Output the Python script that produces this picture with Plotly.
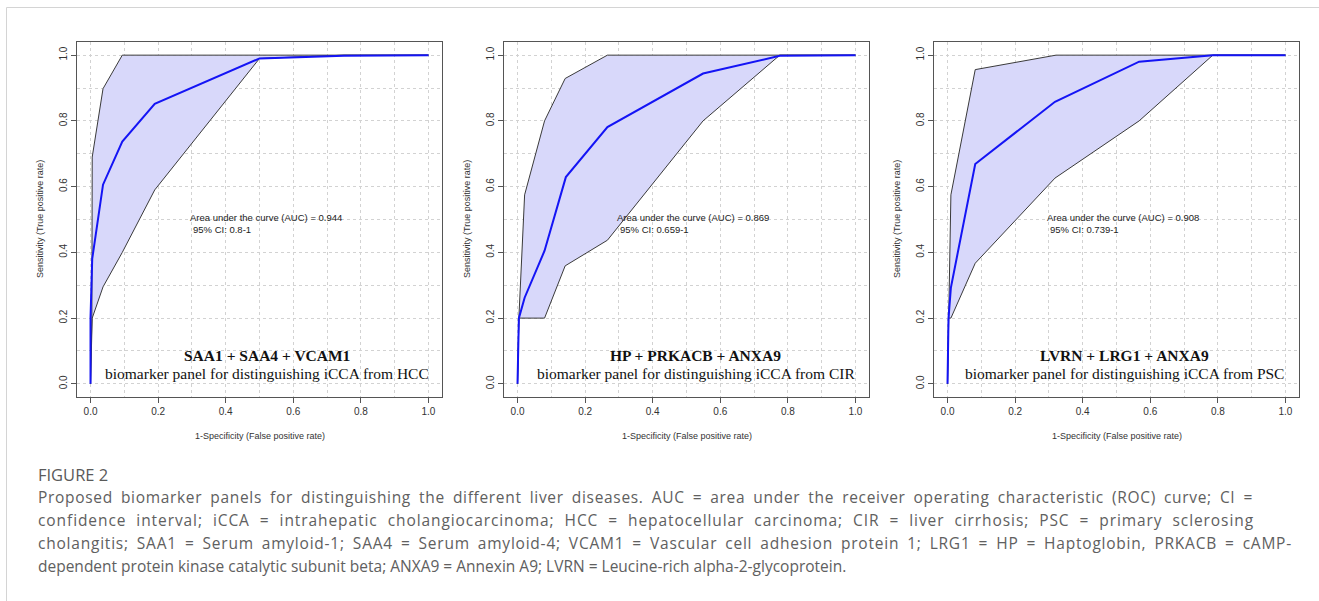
import json
import plotly.graph_objects as go

# ---------------- data ----------------
# Panel 1: SAA1 + SAA4 + VCAM1 (iCCA vs HCC)
p1_fpr = [0.0, 0.0, 0.005, 0.037, 0.094, 0.19, 0.50, 0.75, 1.0]
p1_tpr = [0.0, 0.2, 0.38, 0.606, 0.737, 0.852, 0.99, 0.998, 1.0]
p1_up_x = [0.0, 0.004, 0.005, 0.037, 0.094, 1.0]
p1_up_y = [0.0, 0.2, 0.69, 0.898, 1.0, 1.0]
p1_lo_x = [0.0, 0.005, 0.037, 0.094, 0.19, 0.50, 0.75, 1.0]
p1_lo_y = [0.0, 0.2, 0.295, 0.40, 0.59, 0.99, 1.0, 1.0]

# Panel 2: HP + PRKACB + ANXA9 (iCCA vs CIR)
p2_fpr = [0.0, 0.004, 0.021, 0.08, 0.143, 0.266, 0.549, 0.776, 1.0]
p2_tpr = [0.0, 0.2, 0.262, 0.405, 0.629, 0.781, 0.944, 0.998, 1.0]
p2_up_x = [0.0, 0.004, 0.021, 0.08, 0.141, 0.266, 1.0]
p2_up_y = [0.0, 0.2, 0.575, 0.80, 0.929, 1.0, 1.0]
p2_lo_x = [0.0, 0.004, 0.08, 0.141, 0.266, 0.549, 0.776, 1.0]
p2_lo_y = [0.0, 0.2, 0.2, 0.359, 0.437, 0.80, 1.0, 1.0]

# Panel 3: LVRN + LRG1 + ANXA9 (iCCA vs PSC)
p3_fpr = [0.0, 0.003, 0.01, 0.082, 0.318, 0.567, 0.785, 1.0]
p3_tpr = [0.0, 0.2, 0.293, 0.669, 0.858, 0.98, 1.0, 1.0]
p3_up_x = [0.0, 0.003, 0.01, 0.082, 0.321, 1.0]
p3_up_y = [0.0, 0.2, 0.575, 0.956, 1.0, 1.0]
p3_lo_x = [0.0, 0.003, 0.01, 0.082, 0.318, 0.567, 0.785, 1.0]
p3_lo_y = [0.0, 0.2, 0.2, 0.367, 0.626, 0.80, 1.0, 1.0]

panel_titles = ["SAA1 + SAA4 + VCAM1", "HP + PRKACB + ANXA9", "LVRN + LRG1 + ANXA9"]
panel_subtitles = ["biomarker panel for distinguishing iCCA from HCC",
                   "biomarker panel for distinguishing iCCA from CIR",
                   "biomarker panel for distinguishing iCCA from PSC"]
auc_texts = ["Area under the curve (AUC) = 0.944",
             "Area under the curve (AUC) = 0.869",
             "Area under the curve (AUC) = 0.908"]
ci_texts = ["95% CI: 0.8-1", "95% CI: 0.659-1", "95% CI: 0.739-1"]

tick_vals = [0.0, 0.2, 0.4, 0.6, 0.8, 1.0]
tick_text = ["0.0", "0.2", "0.4", "0.6", "0.8", "1.0"]

x_title = "1-Specificity (False positive rate)"
y_title = "Sensitivity (True positive rate)"

fig_label = "FIGURE 2"
caption_lines = [
    "Proposed biomarker panels for distinguishing the different liver diseases. AUC = area under the receiver operating characteristic (ROC) curve; CI =",
    "confidence interval; iCCA = intrahepatic cholangiocarcinoma; HCC = hepatocellular carcinoma; CIR = liver cirrhosis; PSC = primary sclerosing",
    "cholangitis; SAA1 = Serum amyloid-1; SAA4 = Serum amyloid-4; VCAM1 = Vascular cell adhesion protein 1; LRG1 = HP = Haptoglobin, PRKACB = cAMP-",
    "dependent protein kinase catalytic subunit beta; ANXA9 = Annexin A9; LVRN = Leucine-rich alpha-2-glycoprotein.",
]
# right edge (px) of the justified caption lines; None = not justified
caption_right = [1253, 1254, 1292, None]

# ---------------- layout geometry ----------------
W, H = 1319, 601
panels = [
    dict(roc=(p1_fpr, p1_tpr), up=(p1_up_x, p1_up_y), lo=(p1_lo_x, p1_lo_y), px=(77, 442), tcx=0.522),
    dict(roc=(p2_fpr, p2_tpr), up=(p2_up_x, p2_up_y), lo=(p2_lo_x, p2_lo_y), px=(504, 869), tcx=0.528),
    dict(roc=(p3_fpr, p3_tpr), up=(p3_up_x, p3_up_y), lo=(p3_lo_x, p3_lo_y), px=(934, 1299), tcx=0.523),
]
py_top, py_bot = 42, 397
ydom = [1 - py_bot / H, 1 - py_top / H]

fig = go.Figure()
annotations = []
R_FONT = "Liberation Sans, Arial, sans-serif"
SERIF = "Liberation Serif, Times New Roman, serif"
fill_col = "rgb(216,216,250)"
ci_col = "#3a3a3a"

for i, p in enumerate(panels):
    xa = "x" if i == 0 else f"x{i+1}"
    ya = "y" if i == 0 else f"y{i+1}"
    ux, uy = p["up"]
    lx, ly = p["lo"]
    # shaded CI polygon
    fig.add_trace(go.Scatter(x=list(ux) + list(lx)[::-1], y=list(uy) + list(ly)[::-1],
                             mode="lines", fill="toself", fillcolor=fill_col,
                             line=dict(width=0), hoverinfo="skip", showlegend=False,
                             xaxis=xa, yaxis=ya))
    fig.add_trace(go.Scatter(x=ux, y=uy, mode="lines", line=dict(color=ci_col, width=1),
                             showlegend=False, xaxis=xa, yaxis=ya))
    fig.add_trace(go.Scatter(x=lx, y=ly, mode="lines", line=dict(color=ci_col, width=1),
                             showlegend=False, xaxis=xa, yaxis=ya))
    rx, ry = p["roc"]
    fig.add_trace(go.Scatter(x=rx, y=ry, mode="lines", line=dict(color="#1414f5", width=2),
                             showlegend=False, xaxis=xa, yaxis=ya))

    axis_common = dict(range=[-0.04, 1.04], tickvals=tick_vals, ticktext=tick_text,
                       showgrid=True, gridcolor="#d2d2d2", griddash="dot", gridwidth=1,
                       minor=dict(dtick=0.1, tick0=0, showgrid=True, gridcolor="#d2d2d2",
                                  griddash="dot", gridwidth=1, ticks=""),
                       zeroline=False, showline=True, linecolor="#555", linewidth=1,
                       mirror=True, ticks="outside", ticklen=5, tickcolor="#555",
                       tickfont=dict(family=R_FONT, size=10, color="#333"))
    dom = [p["px"][0] / W, p["px"][1] / W]
    fig.update_layout(**{
        ("xaxis" if i == 0 else f"xaxis{i+1}"): dict(domain=dom, anchor=ya, **axis_common),
        ("yaxis" if i == 0 else f"yaxis{i+1}"): dict(domain=ydom, anchor=xa, tickangle=-90, **axis_common),
    })

    # in-plot texts
    annotations.append(dict(x=0.288, y=0.506, xref=xa, yref=ya, text=auc_texts[i], showarrow=False,
                            xanchor="left", yanchor="middle",
                            font=dict(family=R_FONT, size=9.5, color="#222")))
    annotations.append(dict(x=0.296, y=0.469, xref=xa, yref=ya, text=ci_texts[i], showarrow=False,
                            xanchor="left", yanchor="middle",
                            font=dict(family=R_FONT, size=9.5, color="#222")))
    annotations.append(dict(x=p["tcx"], y=0.0875, xref=xa, yref=ya, text="<b>" + panel_titles[i] + "</b>",
                            showarrow=False, xanchor="center", yanchor="middle",
                            font=dict(family=SERIF, size=15.5, color="#111")))
    annotations.append(dict(x=p["tcx"], y=0.0305, xref=xa, yref=ya, text=panel_subtitles[i],
                            showarrow=False, xanchor="center", yanchor="middle",
                            font=dict(family=SERIF, size=15.5, color="#111")))
    # axis titles
    cx = (p["px"][0] + p["px"][1]) / 2
    annotations.append(dict(x=cx / W, y=1 - 436 / H, xref="paper", yref="paper", text=x_title,
                            showarrow=False, xanchor="center", yanchor="middle",
                            font=dict(family=R_FONT, size=9, color="#333")))
    annotations.append(dict(x=(p["px"][0] - 37.5) / W, y=1 - ((py_top + py_bot) / 2) / H,
                            xref="paper", yref="paper", text=y_title, textangle=-90,
                            showarrow=False, xanchor="center", yanchor="middle",
                            font=dict(family=R_FONT, size=9, color="#333")))

# caption
CAP_FONT = "Open Sans, Noto Sans, sans-serif"
annotations.append(dict(x=35.5 / W, y=1 - 474 / H, xref="paper", yref="paper", text=fig_label,
                        showarrow=False, xanchor="left", yanchor="middle", align="left",
                        font=dict(family=CAP_FONT, size=16.5, color="#5a5a5a")))
for k, line in enumerate(caption_lines):
    annotations.append(dict(x=35.5 / W, y=1 - (497 + 23 * k) / H, xref="paper", yref="paper",
                            text=line, showarrow=False, xanchor="left", yanchor="middle", align="left",
                            font=dict(family=CAP_FONT, size=15.5, color="#606060")))

frame_y = 1 - 7.5 / H
frame_x = 6.5 / W
shapes = [
    dict(type="line", xref="paper", yref="paper", x0=frame_x, y0=frame_y, x1=1, y1=frame_y,
         line=dict(color="#d4d4d4", width=1)),
    dict(type="line", xref="paper", yref="paper", x0=frame_x, y0=frame_y, x1=frame_x, y1=0,
         line=dict(color="#d4d4d4", width=1)),
]

fig.update_layout(width=W, height=H, margin=dict(l=0, r=0, t=0, b=0),
                  paper_bgcolor="white", plot_bgcolor="white",
                  annotations=annotations, shapes=shapes, showlegend=False)

# justify the caption lines (like the typeset source): part letter spacing, part word spacing
just = {line: r for line, r in zip(caption_lines, caption_right) if r is not None}
post_js = """
document.body.style.margin='0';document.body.style.overflow='hidden';
(function(){
  var J = %s;
  function justify(){
    document.querySelectorAll('text.annotation-text').forEach(function(t){
      var s = t.textContent;
      if (J.hasOwnProperty(s)) {
        t.style.wordSpacing = '0px';
        t.style.letterSpacing = '0px';
        var n = (s.match(/ /g) || []).length;
        var extra = J[s] - t.getBoundingClientRect().right;
        t.style.letterSpacing = (0.6 * extra / s.length) + 'px';
        var rest = J[s] - t.getBoundingClientRect().right;
        t.style.wordSpacing = (rest / n) + 'px';
      }
    });
  }
  justify();
  setTimeout(justify, 100);
})();
""" % json.dumps(just)

fig.write_html("out.html", config={"displayModeBar": False}, post_script=post_js)
